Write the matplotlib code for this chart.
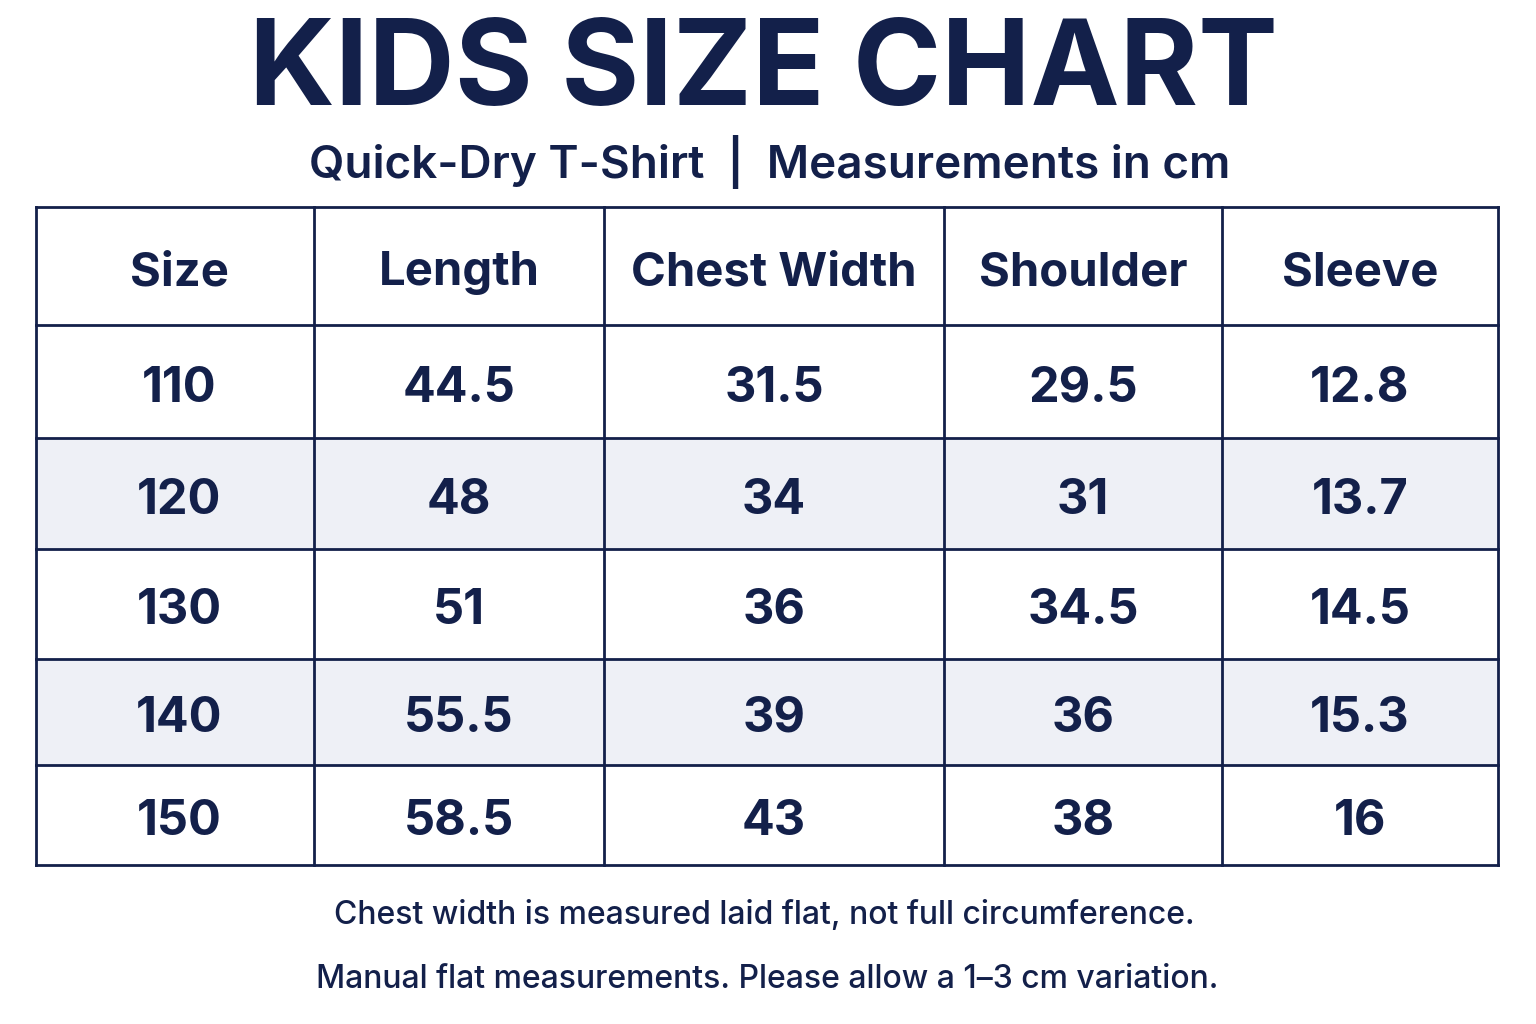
import matplotlib.pyplot as plt
from matplotlib.patches import Rectangle

plt.rcParams['font.family'] = ['Inter', 'DejaVu Sans']

headers = ['Size', 'Length', 'Chest Width', 'Shoulder', 'Sleeve']
sizes = ['110', '120', '130', '140', '150']
length = ['44.5', '48', '51', '55.5', '58.5']
chest = ['31.5', '34', '36', '39', '43']
shoulder = ['29.5', '31', '34.5', '36', '38']
sleeve = ['12.8', '13.7', '14.5', '15.3', '16']
notes = ['Chest width is measured laid flat, not full circumference.',
         'Manual flat measurements. Please allow a 1\u20133 cm variation.']

navy = '#13204a'
shade = '#eef0f6'

col_edges = [36, 314, 604, 944, 1222, 1498]
row_edges = [207, 325, 438, 549, 659, 765, 865]

fig = plt.figure(figsize=(15.36, 10.24), dpi=100)
ax = fig.add_axes([0, 0, 1, 1])
ax.set_xlim(0, 1536)
ax.set_ylim(1024, 0)
ax.axis('off')
fig.patch.set_facecolor('white')

ax.text(763, 74, 'KIDS SIZE CHART', ha='center', va='center', fontsize=86,
        fontweight='bold', color=navy)
ax.text(770, 162, 'Quick-Dry T-Shirt  |  Measurements in cm', ha='center',
        va='center', fontsize=33, fontweight='semibold', color=navy)

columns = [sizes, length, chest, shoulder, sleeve]
for r in range(len(row_edges) - 1):
    y0, y1 = row_edges[r], row_edges[r + 1]
    if r in (2, 4):
        ax.add_patch(Rectangle((col_edges[0], y0), col_edges[-1] - col_edges[0],
                               y1 - y0, color=shade, zorder=0))
    for c in range(len(col_edges) - 1):
        x0, x1 = col_edges[c], col_edges[c + 1]
        if r == 0:
            txt, fs = headers[c], 34
        else:
            txt, fs = columns[c][r - 1], 35
        ax.text((x0 + x1) / 2 + (4 if c == 0 else 0), (y0 + y1) / 2 + 7, txt,
                ha='center', va='center', fontsize=fs, fontweight='bold', color=navy)

for x in col_edges:
    ax.plot([x, x], [row_edges[0], row_edges[-1]], color=navy, lw=2)
for y in row_edges:
    ax.plot([col_edges[0], col_edges[-1]], [y, y], color=navy, lw=2)

ax.text(764, 916, notes[0], ha='center', va='center', fontsize=23,
        fontweight='medium', color=navy)
ax.text(767, 979, notes[1], ha='center', va='center', fontsize=23,
        fontweight='medium', color=navy)

fig.savefig('out.png', dpi=100)
